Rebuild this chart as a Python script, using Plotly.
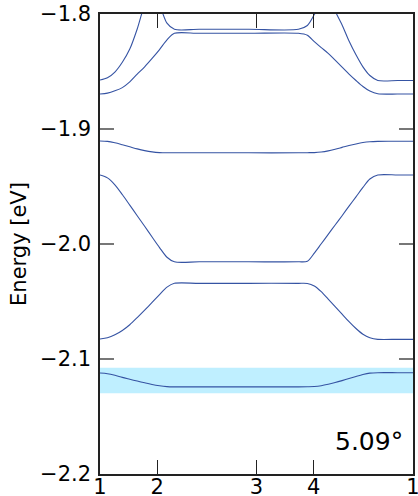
import plotly.graph_objects as go

# Path coordinate (k-path units) and tick labels
tick_pos = [0.0, 0.5774, 1.5774, 2.1547, 3.1547]
tick_labels = ["1", "2", "3", "4", "1"]

k_path = [0.0, 0.075, 0.15, 0.225, 0.30, 0.375, 0.45, 0.525, 0.60, 0.675, 0.75,
          1.0, 1.5, 2.0,
          2.09, 2.16, 2.23, 2.30, 2.37, 2.44, 2.51, 2.58, 2.65, 2.72, 2.80,
          3.0, 3.1547]

band_a = [-2.1122, -2.1128, -2.1142, -2.1160, -2.1176, -2.1192, -2.1207, -2.1222, -2.1233, -2.1240, -2.1242,
          -2.1242, -2.1242, -2.1242,
          -2.1241, -2.1239, -2.1232, -2.1220, -2.1205, -2.1188, -2.1170, -2.1152, -2.1135, -2.1123, -2.1119,
          -2.1119, -2.1119]

band_b = [-2.0826, -2.0815, -2.0790, -2.0752, -2.0702, -2.0640, -2.0575, -2.0508, -2.0440, -2.0375, -2.0342,
          -2.0342, -2.0342, -2.0342,
          -2.0343, -2.0365, -2.0415, -2.0480, -2.0545, -2.0610, -2.0675, -2.0735, -2.0785, -2.0815, -2.0829,
          -2.0829, -2.0829]

band_c = [-1.9400, -1.9425, -1.9485, -1.9570, -1.9662, -1.9754, -1.9846, -1.9939, -2.0031, -2.0115, -2.0155,
          -2.0155, -2.0155, -2.0155,
          -2.0150, -2.0080, -1.9998, -1.9916, -1.9835, -1.9754, -1.9671, -1.9590, -1.9508, -1.9435, -1.9400,
          -1.9400, -1.9400]

band_d = [-1.9104, -1.9108, -1.9120, -1.9137, -1.9155, -1.9173, -1.9188, -1.9199, -1.9205, -1.9207, -1.9207,
          -1.9207, -1.9207, -1.9207,
          -1.9206, -1.9205, -1.9200, -1.9190, -1.9176, -1.9160, -1.9144, -1.9130, -1.9118, -1.9111, -1.9108,
          -1.9106, -1.9106]

band_e = [-1.8696, -1.8688, -1.8668, -1.8640, -1.8590, -1.8523, -1.8459, -1.8386, -1.8309, -1.8225, -1.8168,
          -1.8168, -1.8168, -1.8168,
          -1.8185, -1.8240, -1.8292, -1.8342, -1.8402, -1.8462, -1.8522, -1.8578, -1.8630, -1.8670, -1.8694,
          -1.8696, -1.8696]

band_f = [-1.8574, -1.8555, -1.8505, -1.8420, -1.8305, -1.8130, -1.7920, -1.7800, -1.7920, -1.8080, -1.8133,
          -1.8133, -1.8133, -1.8133,
          -1.8100, -1.8005, -1.7900, -1.7850, -1.7975, -1.8095, -1.8235, -1.8355, -1.8460, -1.8535, -1.8578,
          -1.8578, -1.8578]

bands = [band_a, band_b, band_c, band_d, band_e, band_f]

shade_range = [-2.1298, -2.1075]
y_ticks = [-2.2, -2.1, -2.0, -1.9, -1.8]
y_range = [-2.2, -1.8]
angle_label = "5.09°"

line_color = "#3553a3"
font_family = "DejaVu Sans"

fig = go.Figure()
for b in bands:
    fig.add_trace(go.Scatter(
        x=k_path, y=b, mode="lines",
        line=dict(color=line_color, width=1.1, shape="spline", smoothing=0.8),
        showlegend=False, hoverinfo="skip",
    ))

fig.add_shape(type="rect", xref="paper", yref="y",
              x0=0, x1=1, y0=shade_range[0], y1=shade_range[1],
              fillcolor="rgb(191,239,255)", line=dict(width=0), layer="below")

fig.add_annotation(text=angle_label, xref="paper", yref="paper",
                   x=0.975, y=0.0696, xanchor="right", yanchor="middle",
                   showarrow=False, font=dict(size=25, color="black", family=font_family))

fig.update_xaxes(
    range=[tick_pos[0], tick_pos[-1]],
    tickmode="array", tickvals=tick_pos, ticktext=tick_labels,
    ticks="inside", ticklen=14, tickwidth=1.3, tickcolor="#222222",
    showline=True, linecolor="#222222", linewidth=1.5, mirror="ticks",
    showgrid=False, zeroline=False, automargin=False,
    ticklabelstandoff=-7, ticklabeloverflow="allow",
    tickfont=dict(size=21, color="black", family=font_family),
)
fig.update_yaxes(
    range=y_range,
    tickmode="array", tickvals=y_ticks, tickformat=".1f",
    ticks="inside", ticklen=14, tickwidth=1.5, tickcolor="#777777",
    showline=True, linecolor="#222222", linewidth=1.5, mirror="ticks",
    showgrid=False, zeroline=False, automargin=False,
    ticklabelstandoff=3, ticklabeloverflow="allow",
    tickfont=dict(size=21, color="black", family=font_family),
    title=dict(text="Energy [eV]", font=dict(size=21, color="black", family=font_family), standoff=8),
)

fig.update_layout(
    width=418, height=496,
    margin=dict(l=100, r=5, t=14, b=22, pad=0),
    paper_bgcolor="white", plot_bgcolor="white",
    font=dict(family=font_family, color="black"),
)

fig.write_html("out.html")
